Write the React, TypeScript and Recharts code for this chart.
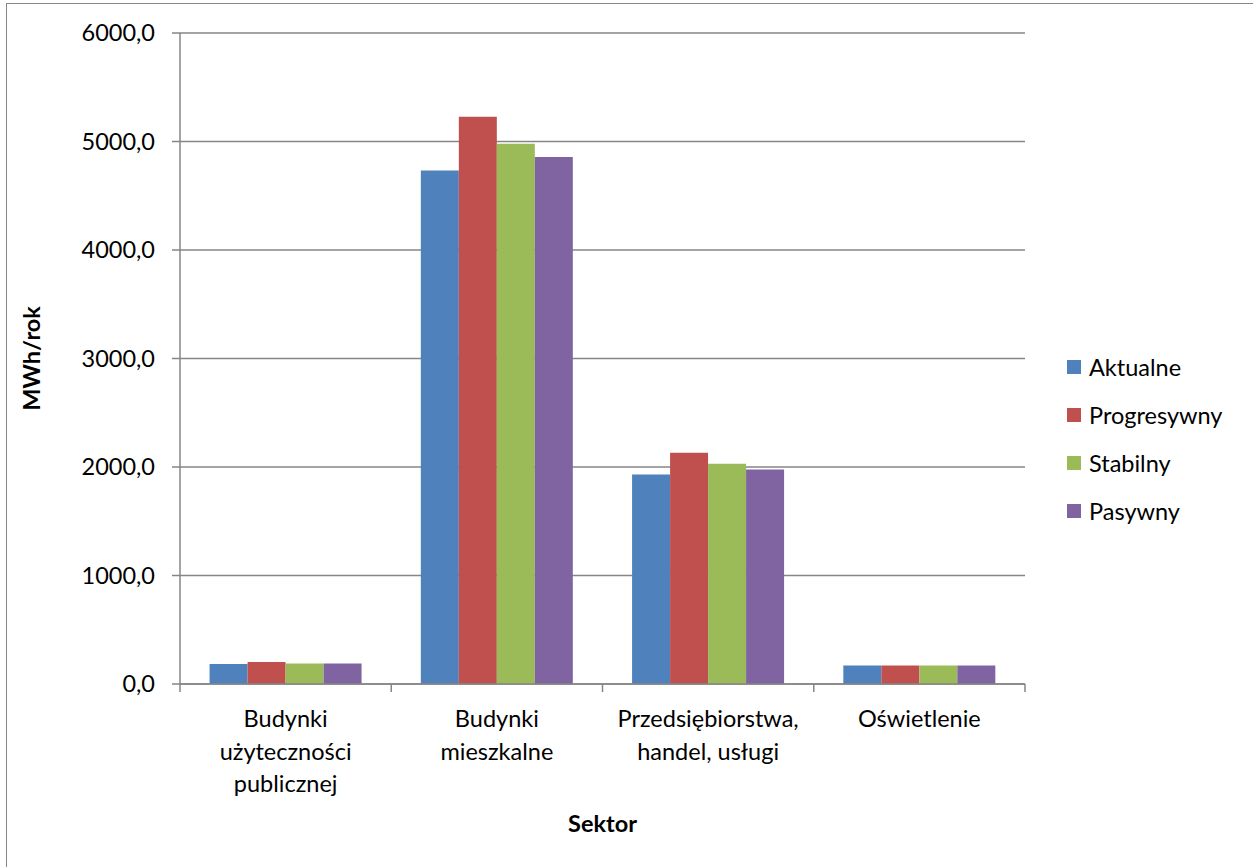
import { Bar, BarChart, CartesianGrid, Label, Legend, XAxis, YAxis } from "recharts";

// Energy use per sector for each scenario (MWh/rok)
const sectors = [
  "Budynki\nużyteczności\npublicznej",
  "Budynki\nmieszkalne",
  "Przedsiębiorstwa,\nhandel, usługi",
  "Oświetlenie",
];
const aktualne = [185, 4732, 1930, 170];
const progresywny = [203, 5228, 2132, 170];
const stabilny = [190, 4980, 2031, 170];
const pasywny = [188, 4858, 1978, 170];

const seriesKeys = ["aktualne", "progresywny", "stabilny", "pasywny"];
const seriesNames = ["Aktualne", "Progresywny", "Stabilny", "Pasywny"];
const seriesColors = ["#4F81BD", "#C0504D", "#9BBB59", "#8064A2"];
const yTicks = [0, 1000, 2000, 3000, 4000, 5000, 6000];

const data = sectors.map((sector, i) => ({
  sector,
  aktualne: aktualne[i],
  progresywny: progresywny[i],
  stabilny: stabilny[i],
  pasywny: pasywny[i],
}));

const AXIS = "#868686";
const FONT = "Lato, 'Open Sans', sans-serif";
const FONT_SIZE = 23.5;

const formatValue = (v: number) => v.toFixed(1).replace(".", ",");

function SectorTick(props: any) {
  const { x, y, payload, index } = props;
  const half = payload?.offset || 105.6;
  const lines = String(payload.value).split("\n");
  return (
    <g>
      <line x1={x - half} x2={x - half} y1={y} y2={y + 8} stroke={AXIS} strokeWidth={1.5} />
      {index === sectors.length - 1 && (
        <line x1={x + half} x2={x + half} y1={y} y2={y + 8} stroke={AXIS} strokeWidth={1.5} />
      )}
      <text x={x} y={y} textAnchor="middle" fill="#000" fontSize={FONT_SIZE}>
        {lines.map((line, i) => (
          <tspan key={i} x={x} y={y + 43 + i * 32.5}>
            {line}
          </tspan>
        ))}
      </text>
    </g>
  );
}

function ScenarioLegend() {
  return (
    <div style={{ fontFamily: FONT, fontSize: FONT_SIZE, color: "#000" }}>
      {seriesNames.map((name, i) => (
        <div key={name} style={{ display: "flex", alignItems: "center", height: 48 }}>
          <span style={{ width: 14, height: 14, background: seriesColors[i], marginRight: 8 }} />
          <span>{name}</span>
        </div>
      ))}
    </div>
  );
}

export default function App() {
  return (
    <div
      style={{
        position: "absolute",
        left: 0,
        top: 0,
        width: 1253,
        height: 867,
        overflow: "hidden",
        background: "#fff",
        fontFamily: FONT,
      }}
    >
      <div
        style={{
          position: "absolute",
          left: 6,
          top: 3,
          width: 1300,
          height: 900,
          border: `1.5px solid ${AXIS}`,
        }}
      />
      <BarChart
        width={1253}
        height={867}
        data={data}
        margin={{ top: 33, right: 228, left: 0, bottom: 33 }}
        barCategoryGap="14%"
        barGap={0}
        style={{ fontFamily: FONT }}
      >
        <CartesianGrid vertical={false} stroke={AXIS} strokeWidth={1.5} />
        <XAxis
          dataKey="sector"
          height={150}
          interval={0}
          tickLine={false}
          tickSize={0}
          tickMargin={0}
          axisLine={{ stroke: AXIS, strokeWidth: 1.5 }}
          tick={<SectorTick />}
        >
          <Label
            content={({ viewBox }: any) => (
              <text
                x={viewBox.x + viewBox.width / 2}
                y={viewBox.y + 148}
                textAnchor="middle"
                fontSize={FONT_SIZE}
                fontWeight="bold"
                fill="#000"
              >
                Sektor
              </text>
            )}
          />
        </XAxis>
        <YAxis
          width={180}
          domain={[0, 6000]}
          ticks={yTicks}
          tickFormatter={formatValue}
          tickSize={8}
          tickMargin={17}
          tick={{ fill: "#000", fontSize: FONT_SIZE }}
          tickLine={{ stroke: AXIS, strokeWidth: 1.5 }}
          axisLine={{ stroke: AXIS, strokeWidth: 1.5 }}
        >
          <Label
            content={({ viewBox }: any) => {
              const cx = viewBox.x + 31;
              const cy = viewBox.y + viewBox.height / 2;
              return (
                <text
                  x={cx}
                  y={cy}
                  transform={`rotate(-90, ${cx}, ${cy})`}
                  textAnchor="middle"
                  dominantBaseline="central"
                  fontSize={FONT_SIZE}
                  fontWeight="bold"
                  fill="#000"
                >
                  MWh/rok
                </text>
              );
            }}
          />
        </YAxis>
        <Legend
          layout="vertical"
          align="center"
          verticalAlign="middle"
          wrapperStyle={{ left: 1067, top: 343, width: 186 }}
          content={<ScenarioLegend />}
        />
        {seriesKeys.map((key, i) => (
          <Bar
            key={key}
            dataKey={key}
            name={seriesNames[i]}
            fill={seriesColors[i]}
            isAnimationActive={false}
          />
        ))}
      </BarChart>
    </div>
  );
}
